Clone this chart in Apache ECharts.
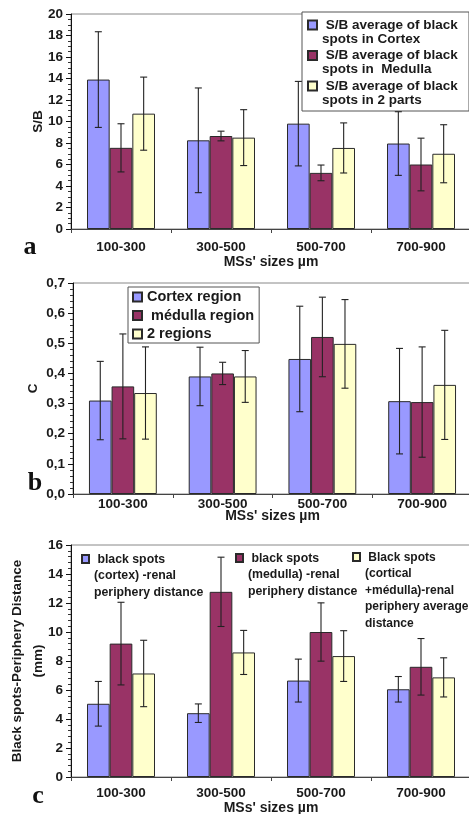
<!DOCTYPE html>
<html><head><meta charset="utf-8">
<script src="https://cdn.jsdelivr.net/npm/echarts@6/dist/echarts.min.js"></script>
<style>html,body{margin:0;padding:0;background:#fff}#c{width:469px;height:814px}</style>
</head><body><div id="c"></div>
<script>
// ---------- data ----------
const categories = ['100-300', '300-500', '500-700', '700-900'];
const xAxisTitle = "MSs' sizes µm";

// panel a : S/B
const aTicks = ['0','2','4','6','8','10','12','14','16','18','20'];
const aCortex = [13.9, 8.25, 9.8, 7.95];
const aCortexErr = [4.45, 4.87, 3.93, 2.96];
const aMedulla = [7.55, 8.65, 5.22, 6.0];
const aMedullaErr = [2.24, 0.45, 0.73, 2.45];
const aBoth = [10.73, 8.5, 7.54, 7.0];
const aBothErr = [3.4, 2.6, 2.33, 2.7];
const aNames = [' S/B average of black\nspots in Cortex', ' S/B average of black\nspots in  Medulla', ' S/B average of black\nspots in 2 parts'];

// panel b : C
const bTicks = ['0,0','0,1','0,2','0,3','0,4','0,5','0,6','0,7'];
const bCortex = [0.31, 0.39, 0.448, 0.308];
const bCortexErr = [0.13, 0.097, 0.175, 0.175];
const bMedulla = [0.357, 0.40, 0.521, 0.305];
const bMedullaErr = [0.174, 0.037, 0.132, 0.183];
const bBoth = [0.335, 0.39, 0.498, 0.362];
const bBothErr = [0.153, 0.086, 0.147, 0.181];
const bNames = ['Cortex region', ' médulla region', '2 regions'];

// panel c : distance
const cTicks = ['0','2','4','6','8','10','12','14','16'];
const cCortex = [5.05, 4.4, 6.65, 6.05];
const cCortexErr = [1.54, 0.64, 1.48, 0.88];
const cMedulla = [9.2, 12.77, 10.0, 7.6];
const cMedullaErr = [2.85, 2.39, 2.01, 1.95];
const cBoth = [7.14, 8.59, 8.34, 6.87];
const cBothErr = [2.29, 1.52, 1.75, 1.35];
const cNames = [' black spots\n(cortex) -renal\nperiphery distance', ' black spots\n(medulla) -renal\nperiphery distance', ' Black spots\n(cortical\n+médulla)-renal\nperiphery average\ndistance'];

const panelLetters = ['a', 'b', 'c'];
const yTitles = ['S/B', 'C', 'Black spots-Periphery Distance\n(mm)'];

// ---------- style ----------
const COLORS = ['#9999FF', '#993366', '#FFFFCC'];
const GAP = 0.32;
const FONT = 'Liberation Sans';
const TXT = '#1a1a1a';

const chart = echarts.init(document.getElementById('c'), null, {renderer: 'canvas'});

function errorBar(k) {
  return function (params, api) {
    const i = api.value(0), v = api.value(1), e = api.value(2);
    const band = api.size([1, 0])[0];
    const groupW = band * (1 - GAP);
    const bw = groupW / 3;
    const base = api.coord([i, v]);
    const x = base[0] - groupW / 2 + (k + 0.5) * bw;
    const yHi = api.coord([i, v + e])[1];
    const yLo = api.coord([i, v - e])[1];
    const c = 3.5;
    const st = {stroke: '#222', lineWidth: 1.1};
    return {type: 'group', children: [
      {type: 'line', shape: {x1: x, y1: yHi, x2: x, y2: yLo}, style: st},
      {type: 'line', shape: {x1: x - c, y1: yHi, x2: x + c, y2: yHi}, style: st},
      {type: 'line', shape: {x1: x - c, y1: yLo, x2: x + c, y2: yLo}, style: st}
    ]};
  };
}

const panels = [
  {vals: [aCortex, aMedulla, aBoth], errs: [aCortexErr, aMedullaErr, aBothErr], names: aNames, ticks: aTicks,
   grid: {left: 71, top: 14, width: 400, height: 215}, max: 20, interval: 2, split: 4,
   labelMargin: 11, nameGap: 26, yNameGap: 22},
  {vals: [bCortex, bMedulla, bBoth], errs: [bCortexErr, bMedullaErr, bBothErr], names: bNames, ticks: bTicks,
   grid: {left: 73, top: 283, width: 399, height: 211}, max: 0.7, interval: 0.1, split: 5,
   labelMargin: 3, nameGap: 15, yNameGap: 29},
  {vals: [cCortex, cMedulla, cBoth], errs: [cCortexErr, cMedullaErr, cBothErr], names: cNames, ticks: cTicks,
   grid: {left: 71, top: 545, width: 400, height: 232}, max: 16, interval: 2, split: 5,
   labelMargin: 9, nameGap: 24, yNameGap: 22}
];

const grids = [], xAxes = [], yAxes = [], series = [];
panels.forEach((p, gi) => {
  grids.push(Object.assign({show: true, borderColor: '#888', borderWidth: 1, backgroundColor: 'transparent',
    containLabel: false, outerBoundsMode: 'none'}, p.grid));
  xAxes.push({
    type: 'category', gridIndex: gi, data: categories,
    name: xAxisTitle, nameLocation: 'middle', nameGap: p.nameGap, nameMoveOverlap: false,
    nameTextStyle: {fontFamily: FONT, fontWeight: 'bold', fontSize: 14, color: TXT},
    axisLine: {lineStyle: {color: '#444', width: 1}},
    axisTick: {show: true, length: 4, lineStyle: {color: '#444'}},
    axisLabel: {fontFamily: FONT, fontWeight: 'bold', fontSize: 13.5, color: TXT, margin: p.labelMargin}
  });
  yAxes.push({
    type: 'value', gridIndex: gi, min: 0, max: p.max, interval: p.interval,
    name: yTitles[gi], nameLocation: 'middle', nameGap: p.yNameGap, nameRotate: 90, nameMoveOverlap: false,
    nameTextStyle: {fontFamily: FONT, fontWeight: 'bold', fontSize: 13.5, color: TXT, lineHeight: 21},
    axisLine: {show: true, lineStyle: {color: '#111', width: 1}},
    axisTick: {show: true, length: 5, lineStyle: {color: '#111'}},
    minorTick: {show: true, splitNumber: p.split, length: 3, lineStyle: {color: '#333'}},
    splitLine: {show: false},
    axisLabel: {fontFamily: FONT, fontWeight: 'bold', fontSize: 13.5, color: TXT, margin: 8,
      formatter: (v) => p.ticks[Math.round(v / p.interval)]}
  });
  for (let k = 0; k < 3; k++) {
    series.push({
      type: 'bar', name: p.names[k], xAxisIndex: gi, yAxisIndex: gi,
      data: p.vals[k], barCategoryGap: (GAP * 100) + '%', barGap: '0%',
      itemStyle: {color: COLORS[k], borderColor: '#2a2a2a', borderWidth: 1},
      emphasis: {disabled: true}, animation: false
    });
  }
  for (let k = 0; k < 3; k++) {
    series.push({
      type: 'custom', name: 'err' + gi + k, xAxisIndex: gi, yAxisIndex: gi, z: 5,
      data: categories.map((c, i) => [i, p.vals[k][i], p.errs[k][i]]),
      encode: {x: 0, y: 1}, renderItem: errorBar(k), animation: false, silent: true
    });
  }
});

const legendText = {fontFamily: FONT, fontWeight: 'bold', color: TXT};
const legends = [
  {
    orient: 'vertical', left: 302, top: 12, data: aNames, selectedMode: false,
    backgroundColor: '#fff', borderColor: '#555', borderWidth: 1, padding: [5, 4, 3, 5],
    itemWidth: 9, itemHeight: 28, itemGap: 0.5,
    icon: 'path://M0,0M0,2.5h9v9h-9zM0,28',
    textStyle: Object.assign({fontSize: 13.5, lineHeight: 14, width: 143}, legendText)
  },
  {
    orient: 'vertical', left: 128, top: 287, data: bNames, selectedMode: false,
    backgroundColor: '#fff', borderColor: '#555', borderWidth: 1, padding: [1, 5, 0, 4],
    itemWidth: 9, itemHeight: 16, itemGap: 0.5,
    icon: 'path://M0,0M0,3.5h9v9h-9zM0,16',
    textStyle: Object.assign({fontSize: 14.5, lineHeight: 16, width: 107}, legendText)
  },
  {
    left: 81, top: 550, data: [cNames[0]], selectedMode: false, padding: 0,
    itemWidth: 7, itemHeight: 49.5, icon: 'path://M0,0M0,4h7v8h-7zM0,49.5',
    textStyle: Object.assign({fontSize: 12.3, lineHeight: 16.5}, legendText)
  },
  {
    left: 235, top: 549, data: [cNames[1]], selectedMode: false, padding: 0,
    itemWidth: 7, itemHeight: 49.5, icon: 'path://M0,0M0,4h7v8h-7zM0,49.5',
    textStyle: Object.assign({fontSize: 12.3, lineHeight: 16.5}, legendText)
  },
  {
    left: 352, top: 548, data: [cNames[2]], selectedMode: false, padding: 0,
    itemWidth: 7, itemHeight: 82.5, icon: 'path://M0,0M0,4h7v8h-7zM0,82.5',
    textStyle: Object.assign({fontSize: 12, lineHeight: 16.5}, legendText)
  }
];

const letterPos = [[30, 247], [35, 483], [38, 796]];
const graphics = panelLetters.map((t, i) => ({
  type: 'text', x: letterPos[i][0], y: letterPos[i][1], silent: true,
  style: {text: t, font: 'bold 26px "Liberation Serif"', fill: '#111', textAlign: 'center', textVerticalAlign: 'middle'}
}));

chart.setOption({
  backgroundColor: '#fff',
  animation: false,
  grid: grids, xAxis: xAxes, yAxis: yAxes,
  legend: legends,
  series: series,
  graphic: graphics
});
</script>
</body></html>
